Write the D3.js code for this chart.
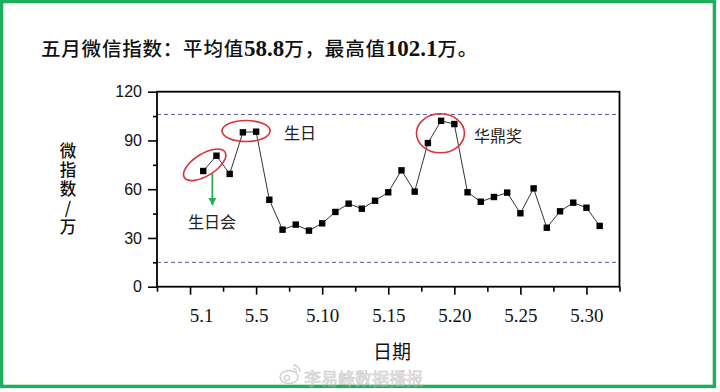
<!DOCTYPE html>
<html>
<head>
<meta charset="UTF-8">
<title>五月微信指数</title>
<style>
  body { margin: 0; background: #ffffff; }
  svg { display: block; }
  .cjk { font-family: "Noto Sans CJK SC", sans-serif; }
</style>
</head>
<body>
<svg id="chart" width="720" height="392"></svg>
<script src="https://cdn.jsdelivr.net/npm/d3@7/dist/d3.min.js"></script>
<script>
// day of May and the WeChat index (10k)
var days = d3.range(1, 32);
var values = [71.2, 80.6, 69.4, 95.0, 95.4, 53.5, 35.1, 38.2, 34.5, 39.0,
              46.0, 51.1, 48.0, 52.9, 58.1, 71.6, 58.5, 88.4, 102.1, 100.1,
              58.1, 52.3, 55.2, 57.9, 45.2, 60.5, 36.3, 46.4, 51.7, 48.6, 37.4];
var xTicks = [0, 5, 10, 15, 20, 25, 30];
var xTickLabels = ["5.1", "5.5", "5.10", "5.15", "5.20", "5.25", "5.30"];
var yTicks = [0, 30, 60, 90, 120];
var refLines = [106, 15];

var svg = d3.select("#chart");

var pLeft = 157, pRight = 619.5, pTop = 91.7, pBottom = 286.7;

var x = d3.scaleLinear().domain([-2.5, 32.5]).range([pLeft, pRight]);
var y = d3.scaleLinear().domain([0, 120]).range([pBottom, pTop]);

// green frame
svg.append("rect")
    .attr("x", 1.6).attr("y", 1.6)
    .attr("width", 712.8).attr("height", 384.8)
    .attr("fill", "none")
    .attr("stroke", "#1fae5c")
    .attr("stroke-width", 3.4);

// title
var title = svg.append("text")
    .attr("class", "cjk")
    .attr("x", 41).attr("y", 56)
    .attr("font-size", 19.5)
    .attr("font-weight", 500)
    .attr("letter-spacing", 0.8)
    .attr("fill", "#111");
title.append("tspan").text("五月微信指数：平均值");
title.append("tspan").attr("font-family", "Liberation Serif").attr("font-weight", "bold").attr("font-size", 23).attr("letter-spacing", 0).text("58.8");
title.append("tspan").text("万，最高值");
title.append("tspan").attr("font-family", "Liberation Serif").attr("font-weight", "bold").attr("font-size", 23).attr("letter-spacing", 0).text("102.1");
title.append("tspan").text("万。");

// dashed reference lines
svg.selectAll(".ref")
    .data(refLines)
    .enter().append("line")
    .attr("class", "ref")
    .attr("x1", pLeft).attr("x2", pRight)
    .attr("y1", function(d) { return y(d); })
    .attr("y2", function(d) { return y(d); })
    .attr("stroke", "#5a5aa8")
    .attr("stroke-width", 1)
    .attr("stroke-dasharray", "4,3");

// x axis
var xAxis = d3.axisBottom(x)
    .tickValues(xTicks)
    .tickSize(8)
    .tickPadding(14)
    .tickFormat(function(d, i) { return xTickLabels[i]; });
var gx = svg.append("g")
    .attr("transform", "translate(0," + pBottom + ")")
    .call(xAxis);
gx.selectAll("text")
    .attr("font-family", "Liberation Serif, serif")
    .attr("font-size", 19)
    .attr("fill", "#111")
    .attr("dx", function(d, i) { return i === 0 ? 11 : 0; });

var gxMinor = svg.append("g")
    .attr("transform", "translate(0," + pBottom + ")")
    .call(d3.axisBottom(x).tickValues(d3.range(-2.5, 33, 5)).tickSize(5).tickFormat(""));

// y axis
var yAxis = d3.axisLeft(y)
    .tickValues(yTicks)
    .tickSize(9)
    .tickPadding(6);
var gy = svg.append("g")
    .attr("transform", "translate(" + pLeft + ",0)")
    .call(yAxis);
gy.selectAll("text")
    .attr("font-family", "Liberation Sans, Arial, sans-serif")
    .attr("font-size", 16)
    .attr("fill", "#111");

var gyMinor = svg.append("g")
    .attr("transform", "translate(" + pLeft + ",0)")
    .call(d3.axisLeft(y).tickValues([15, 45, 75, 105]).tickSize(4).tickFormat(""));

[gx, gxMinor, gy, gyMinor].forEach(function(g) {
    g.select(".domain").remove();
    g.selectAll("line").attr("stroke", "#000").attr("stroke-width", 1.6);
});

// plot frame
svg.append("rect")
    .attr("x", pLeft).attr("y", pTop)
    .attr("width", pRight - pLeft).attr("height", pBottom - pTop)
    .attr("fill", "none")
    .attr("stroke", "#000")
    .attr("stroke-width", 1.8);

// line + square markers
var line = d3.line()
    .x(function(d, i) { return x(days[i]); })
    .y(function(d) { return y(d); });

svg.append("path")
    .datum(values)
    .attr("d", line)
    .attr("fill", "none")
    .attr("stroke", "#333")
    .attr("stroke-width", 1);

svg.selectAll(".pt")
    .data(values)
    .enter().append("rect")
    .attr("class", "pt")
    .attr("x", function(d, i) { return x(days[i]) - 3.2; })
    .attr("y", function(d) { return y(d) - 3.2; })
    .attr("width", 6.4).attr("height", 6.4)
    .attr("fill", "#000");

// annotations: red ellipses (day, value, rx, ry, angle)
var rings = [
    [1.11, 75.0, 24, 11, -32],
    [4.24, 95.8, 24, 10.5, 0],
    [18.95, 94.4, 24, 19.5, 0]
];
svg.selectAll(".ring")
    .data(rings)
    .enter().append("ellipse")
    .attr("class", "ring")
    .attr("cx", 0).attr("cy", 0)
    .attr("rx", function(d) { return d[2]; })
    .attr("ry", function(d) { return d[3]; })
    .attr("transform", function(d) {
        return "translate(" + x(d[0]) + "," + y(d[1]) + ") rotate(" + d[4] + ")";
    })
    .attr("fill", "none")
    .attr("stroke", "#d8343c")
    .attr("stroke-width", 1.6);

// green arrow
svg.append("defs").append("marker")
    .attr("id", "arrow")
    .attr("viewBox", "0 0 10 10")
    .attr("refX", 9).attr("refY", 5)
    .attr("markerWidth", 4.5).attr("markerHeight", 4.5)
    .attr("orient", "auto")
    .append("path")
    .attr("d", "M0,0 L10,5 L0,10 Z")
    .attr("fill", "#22b058");

svg.append("line")
    .attr("x1", x(1.69)).attr("x2", x(1.69))
    .attr("y1", y(69.8)).attr("y2", y(50.3))
    .attr("stroke", "#22b058")
    .attr("stroke-width", 1.8)
    .attr("marker-end", "url(#arrow)");

var notes = [
    ["生日", 8.33, 95.4],
    ["生日会", 1.67, 40.4],
    ["华鼎奖", 23.3, 93.4]
];
svg.selectAll(".note")
    .data(notes)
    .enter().append("text")
    .attr("class", "note cjk")
    .attr("x", function(d) { return x(d[1]); })
    .attr("y", function(d) { return y(d[2]); })
    .attr("text-anchor", "middle")
    .attr("dominant-baseline", "central")
    .attr("font-size", 16)
    .attr("fill", "#222")
    .text(function(d) { return d[0]; });

// y axis title, written vertically
svg.append("text")
    .attr("class", "cjk")
    .attr("x", 68).attr("y", 142)
    .attr("writing-mode", "vertical-rl")
    .style("text-orientation", "upright")
    .attr("font-size", 16.5)
    .attr("font-weight", 500)
    .attr("letter-spacing", 2.5)
    .attr("fill", "#111")
    .text("微指数/万");

svg.append("text")
    .attr("class", "cjk")
    .attr("x", 392).attr("y", 350)
    .attr("text-anchor", "middle")
    .attr("dominant-baseline", "central")
    .attr("font-size", 19)
    .attr("fill", "#111")
    .text("日期");

// watermark
var wm = svg.append("g").attr("opacity", 0.55);
wm.append("ellipse")
    .attr("cx", 289).attr("cy", 377).attr("rx", 9).attr("ry", 6.5)
    .attr("fill", "none").attr("stroke", "#aaa").attr("stroke-width", 1.4);
wm.append("circle")
    .attr("cx", 287).attr("cy", 378).attr("r", 2.6)
    .attr("fill", "none").attr("stroke", "#aaa").attr("stroke-width", 1.2);
wm.append("path")
    .attr("d", "M293,365 a7,7 0 0 1 7,7 M293,368.5 a3.5,3.5 0 0 1 3.5,3.5")
    .attr("fill", "none").attr("stroke", "#aaa").attr("stroke-width", 1.4);
wm.append("text")
    .attr("class", "cjk")
    .attr("x", 304).attr("y", 377)
    .attr("dominant-baseline", "central")
    .attr("font-size", 17)
    .attr("fill", "#e4e4e4")
    .attr("stroke", "#a8a8a8")
    .attr("stroke-width", 0.7)
    .text("李易峰数据播报");
</script>
</body>
</html>
